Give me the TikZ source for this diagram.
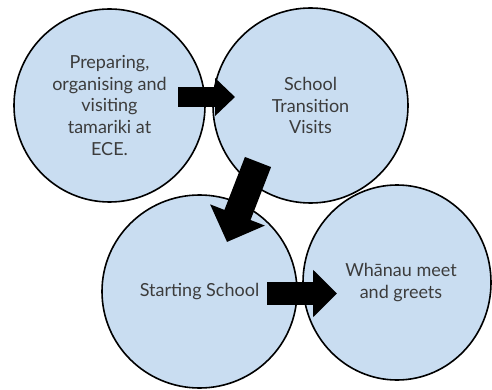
\documentclass[tikz,border=0pt]{standalone}
\usepackage{fontspec}
\setmainfont{Lato}
\usetikzlibrary{shapes.geometric,arrows.meta}
\definecolor{bubblefill}{HTML}{C9DDF1}
\definecolor{bubbletext}{HTML}{3C3C3C}
\tikzset{
  bubble/.style={ellipse, draw=black, line width=1.6pt, fill=bubblefill,
    inner sep=0pt, align=center, text=bubbletext,
    font=\fontsize{18}{21.8}\selectfont},
}
\begin{document}
\begin{tikzpicture}[x=1pt,y=-1pt]
  \useasboundingbox (0,0) rectangle (492,390);

  % the four stages
  \node[bubble, minimum width=191pt, minimum height=193pt] (prep) at (109.5,105.5)
    {Preparing,\\organising and\\visiting\\tamariki at\\ECE.};
  \node[bubble, minimum width=195pt, minimum height=195pt] (visits) at (310.5,105.5)
    {School\\Transition\\Visits};
  \node[bubble, minimum width=195pt, minimum height=193pt] (start) at (199.5,291.5)
    {Starting School};
  \node[bubble, minimum width=188pt, minimum height=195pt] (whanau) at (397,282.5)
    {\hspace*{8pt}Whānau meet\\\hspace*{8pt}and greets};

  % arrow ends
  \coordinate (a1s) at (178,97);
  \coordinate (a1e) at (235,97);
  \coordinate (a2s) at (258,162);
  \coordinate (a2e) at (227,242);
  \coordinate (a3s) at (267,293.5);
  \coordinate (a3e) at (337,293.5);

  % block arrows between the stages
  \draw[line width=20pt, -{Triangle[length=20pt,width=37pt]}] (a1s) -- (a1e);
  \draw[line width=28pt, -{Triangle[length=29pt,width=57pt]}] (a2s) -- (a2e);
  \draw[line width=23pt, -{Triangle[length=24pt,width=46pt]}] (a3s) -- (a3e);
\end{tikzpicture}
\end{document}
